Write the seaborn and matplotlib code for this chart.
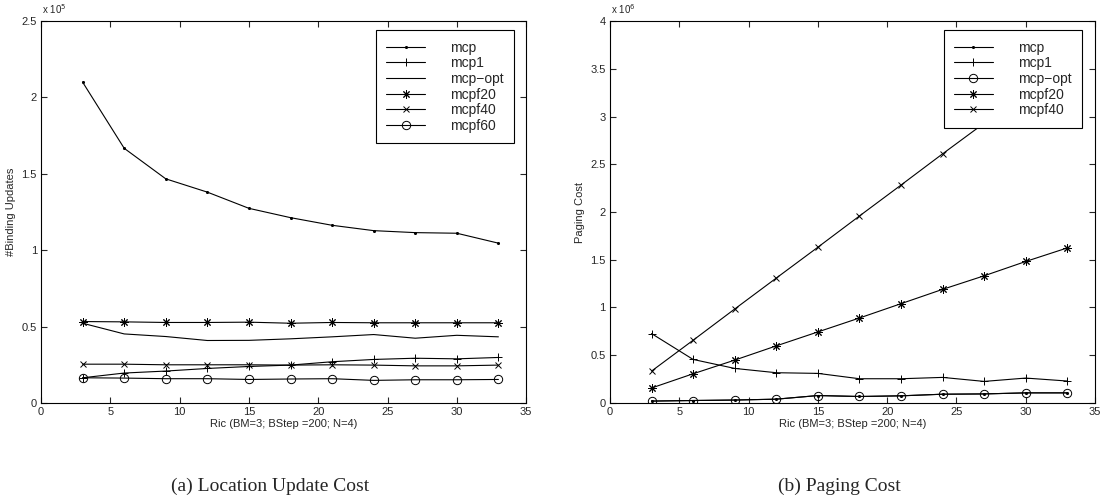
import matplotlib
matplotlib.use('Agg')
import matplotlib.pyplot as plt
import seaborn as sns

sns.set_style('ticks')
plt.rcParams['font.family'] = ['Liberation Sans Narrow', 'Liberation Sans', 'DejaVu Sans']

# Dados comuns
ric = [3, 6, 9, 12, 15, 18, 21, 24, 27, 30, 33]

# (a) Location Update Cost  (x 10^5)
a_mcp = [2.10, 1.667, 1.467, 1.38, 1.274, 1.213, 1.163, 1.128, 1.115, 1.111, 1.046]
a_mcp1 = [0.165, 0.196, 0.209, 0.226, 0.239, 0.248, 0.270, 0.285, 0.293, 0.289, 0.298]
a_mcpopt = [0.522, 0.452, 0.435, 0.409, 0.410, 0.420, 0.433, 0.448, 0.424, 0.443, 0.433]
a_mcpf20 = [0.533, 0.531, 0.527, 0.527, 0.529, 0.522, 0.527, 0.525, 0.525, 0.525, 0.525]
a_mcpf40 = [0.254, 0.254, 0.250, 0.250, 0.250, 0.248, 0.250, 0.248, 0.243, 0.243, 0.248]
a_mcpf60 = [0.165, 0.163, 0.159, 0.159, 0.154, 0.157, 0.159, 0.148, 0.152, 0.152, 0.154]

# (b) Paging Cost  (x 10^6)
b_mcp = [0.020, 0.026, 0.031, 0.040, 0.078, 0.068, 0.075, 0.092, 0.095, 0.106, 0.106]
b_mcp1 = [0.727, 0.456, 0.362, 0.317, 0.310, 0.254, 0.254, 0.268, 0.226, 0.261, 0.230]
b_mcpopt = [0.020, 0.026, 0.031, 0.040, 0.078, 0.068, 0.075, 0.092, 0.095, 0.106, 0.106]
b_mcpf20 = [0.157, 0.306, 0.449, 0.598, 0.744, 0.890, 1.040, 1.190, 1.332, 1.482, 1.624]
b_mcpf40 = [0.334, 0.657, 0.984, 1.308, 1.631, 1.958, 2.282, 2.609, 2.930, 3.255, 3.580]

fig = plt.figure(figsize=(11, 4.99), dpi=100)
ax1 = fig.add_axes([0.0373, 0.1924, 0.441, 0.7655])
ax2 = fig.add_axes([0.5545, 0.1924, 0.441, 0.7655])

ASTER = (8, 2, 0)  # asterisco estilo MATLAB


def curva(ax, y, marker, label, ms=5, mfc='k'):
    sns.lineplot(x=ric, y=y, ax=ax, color='k', linewidth=0.8, marker=marker,
                 markersize=ms, markerfacecolor=mfc, markeredgecolor='k',
                 markeredgewidth=0.7, label=label)


curva(ax1, a_mcp, '.', 'mcp', ms=3)
curva(ax1, a_mcp1, '+', 'mcp1', ms=6)
curva(ax1, a_mcpopt, None, 'mcp\u2212opt')
curva(ax1, a_mcpf20, ASTER, 'mcpf20', ms=6)
curva(ax1, a_mcpf40, 'x', 'mcpf40', ms=4)
curva(ax1, a_mcpf60, 'o', 'mcpf60', ms=6, mfc='none')

curva(ax2, b_mcp, '.', 'mcp', ms=3)
curva(ax2, b_mcp1, '+', 'mcp1', ms=6)
curva(ax2, b_mcpopt, 'o', 'mcp\u2212opt', ms=6, mfc='none')
curva(ax2, b_mcpf20, ASTER, 'mcpf20', ms=6)
curva(ax2, b_mcpf40, 'x', 'mcpf40', ms=4)

for ax, ymax, ylab, mult, cap, capx, legx in [
        (ax1, 2.5, '#Binding Updates', 'x 10$^5$', '(a) Location Update Cost', 270 / 1100, 0.975),
        (ax2, 4.0, 'Paging Cost', 'x 10$^6$', '(b) Paging Cost', 839 / 1100, 0.973)]:
    ax.set_xlim(0, 35)
    ax.set_ylim(0, ymax)
    ax.set_xticks(range(0, 36, 5))
    yt = [i * 0.5 for i in range(int(ymax / 0.5) + 1)]
    ax.set_yticks(yt)
    ax.set_yticklabels(['%g' % v for v in yt])
    ax.tick_params(direction='in', top=True, right=True, length=4, width=0.8,
                   labelsize=8, pad=3)
    for s in ax.spines.values():
        s.set_visible(True)
        s.set_linewidth(0.8)
        s.set_color('k')
    ax.set_xlabel('Ric (BM=3; BStep =200; N=4)', fontsize=8, labelpad=1)
    ax.set_ylabel(ylab, fontsize=8, labelpad=4)
    ax.text(0.002, 1.012, mult, transform=ax.transAxes, fontsize=7, ha='left', va='bottom')
    leg = ax.legend(loc='upper right', bbox_to_anchor=(legx, 0.976), borderaxespad=0,
                    fontsize=10, handlelength=2.8, handletextpad=1.8,
                    labelspacing=0.12, borderpad=0.75, fancybox=False, framealpha=1)
    leg.get_frame().set_edgecolor('k')
    leg.get_frame().set_linewidth(0.8)
    fig.text(capx, 1 - 486 / 499, cap, ha='center', va='center',
             fontsize=14, family=['Liberation Serif', 'DejaVu Serif'])

fig.savefig('out.png', dpi=100)
